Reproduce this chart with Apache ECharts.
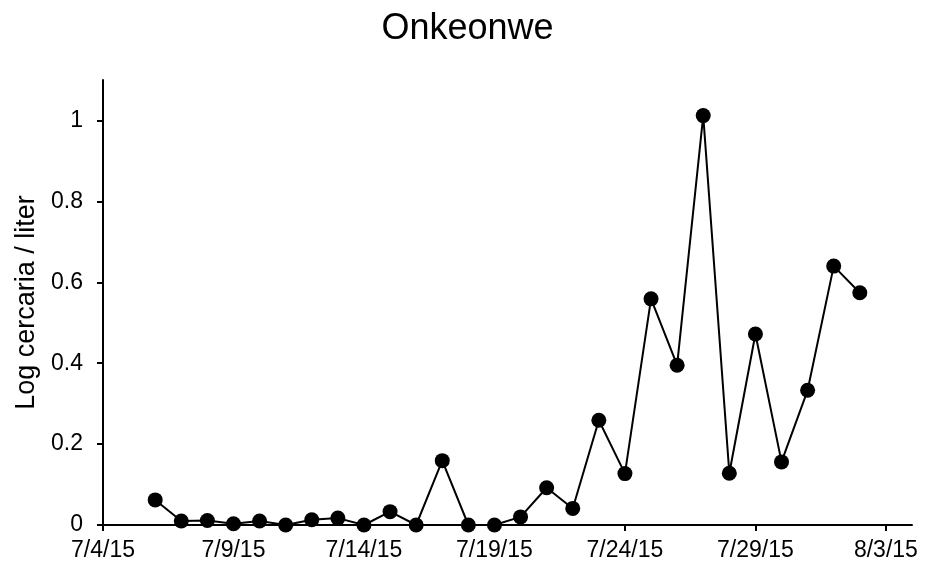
<!DOCTYPE html>
<html>
<head>
<meta charset="utf-8">
<script src="https://cdn.jsdelivr.net/npm/echarts@6/dist/echarts.min.js"></script>
<style>
  html, body { margin: 0; padding: 0; background: #fff; }
  #chart { width: 935px; height: 564px; }
</style>
</head>
<body>
<div id="chart"></div>
<script>
// Sampling dates (M/D/YY) and log-transformed cercaria counts per liter
const sampleDates = [
  '7/6/15', '7/7/15', '7/8/15', '7/9/15', '7/10/15', '7/11/15', '7/12/15',
  '7/13/15', '7/14/15', '7/15/15', '7/16/15', '7/17/15', '7/18/15', '7/19/15',
  '7/20/15', '7/21/15', '7/22/15', '7/23/15', '7/24/15', '7/25/15', '7/26/15',
  '7/27/15', '7/28/15', '7/29/15', '7/30/15', '7/31/15', '8/1/15', '8/2/15'
];
const logCercaria = [
  0.062, 0.010, 0.011, 0.003, 0.010, 0.000, 0.013,
  0.017, 0.000, 0.033, 0.000, 0.159, 0.000, 0.000,
  0.020, 0.092, 0.041, 0.259, 0.127, 0.559, 0.395,
  1.012, 0.128, 0.472, 0.156, 0.333, 0.640, 0.574
];
// Axis range and tick labels
const axisStartDate = '7/4/15';
const axisEndDate = '8/4/15';
const xTickLabels = ['7/4/15', '7/9/15', '7/14/15', '7/19/15', '7/24/15', '7/29/15', '8/3/15'];
const yTickValues = [0, 0.2, 0.4, 0.6, 0.8, 1];

const DAY = 86400000;
function parseDate(s) {
  const [m, d, y] = s.split('/').map(Number);
  return Date.UTC(2000 + y, m - 1, d);
}
const origin = parseDate(axisStartDate);
const dayOffset = s => Math.round((parseDate(s) - origin) / DAY);
function offsetToLabel(v) {
  const dt = new Date(origin + v * DAY);
  return (dt.getUTCMonth() + 1) + '/' + dt.getUTCDate() + '/' + String(dt.getUTCFullYear()).slice(2);
}

const xTicks = xTickLabels.map(dayOffset);
const points = sampleDates.map((d, i) => [dayOffset(d), logCercaria[i]]);

const FONT = '"Liberation Sans", Arial, sans-serif';
const chart = echarts.init(document.getElementById('chart'), null, { renderer: 'canvas' });
chart.setOption({
  animation: false,
  backgroundColor: '#ffffff',
  title: {
    text: 'Onkeonwe',
    left: 'center',
    top: 6,
    textStyle: { fontFamily: FONT, fontSize: 36, fontWeight: 'normal', color: '#000' }
  },
  grid: { left: 103, right: 23, top: 80, bottom: 39, containLabel: false },
  xAxis: {
    type: 'value',
    min: 0,
    max: dayOffset(axisEndDate),
    interval: 5,
    splitLine: { show: false },
    axisLine: { onZero: false, lineStyle: { color: '#000', width: 2 } },
    axisTick: { show: true, length: 6, customValues: xTicks, lineStyle: { color: '#000', width: 2 } },
    axisLabel: {
      customValues: xTicks,
      formatter: offsetToLabel,
      margin: 14,
      color: '#000',
      fontFamily: FONT,
      fontSize: 23
    }
  },
  yAxis: {
    type: 'value',
    min: 0,
    max: 1.1,
    interval: 0.2,
    name: 'Log cercaria / liter',
    nameLocation: 'middle',
    nameGap: 60,
    nameTextStyle: { fontFamily: FONT, fontSize: 27, color: '#000' },
    splitLine: { show: false },
    axisLine: { show: true, lineStyle: { color: '#000', width: 2 } },
    axisTick: { show: true, length: 6, customValues: yTickValues, lineStyle: { color: '#000', width: 2 } },
    axisLabel: {
      customValues: yTickValues,
      formatter: v => String(Math.round(v * 10) / 10),
      margin: 20,
      color: '#000',
      fontFamily: FONT,
      fontSize: 23
    }
  },
  series: [{
    type: 'line',
    data: points,
    symbol: 'circle',
    symbolSize: 15,
    showAllSymbol: true,
    lineStyle: { color: '#000', width: 2 },
    itemStyle: { color: '#000' }
  }]
});
</script>
</body>
</html>
